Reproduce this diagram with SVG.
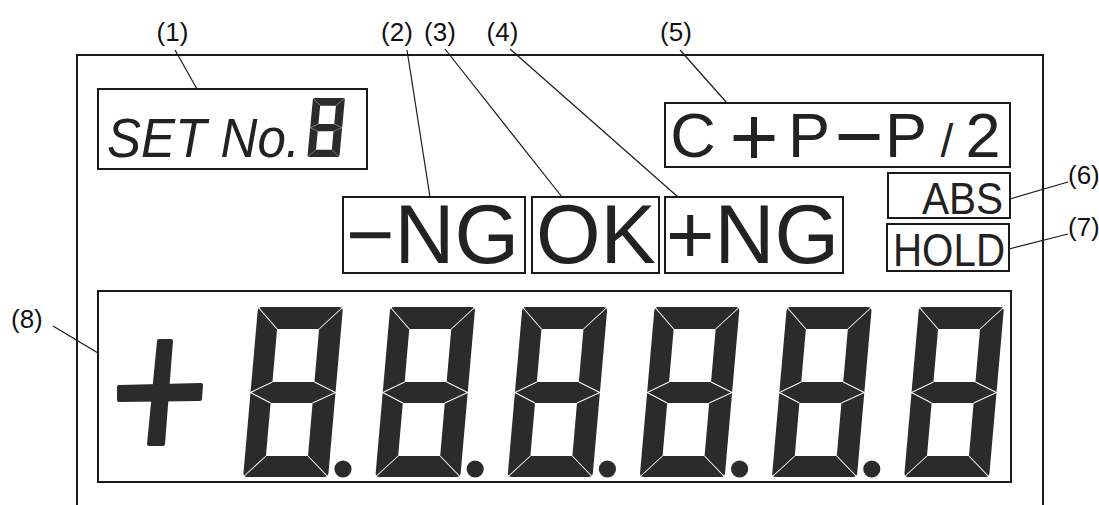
<svg xmlns="http://www.w3.org/2000/svg" xmlns:xlink="http://www.w3.org/1999/xlink" width="1099" height="505" viewBox="0 0 1099 505">
<style>
.box{fill:#fff;stroke:#1a1a1a;stroke-width:2}
.panel{fill:none;stroke:#1a1a1a;stroke-width:2}
.lbl{font-family:"Liberation Sans",Arial,sans-serif;font-size:26px;fill:#111}
.big{font-family:"Liberation Sans",Arial,sans-serif;fill:#222}
.seg{fill:#2b2b2b;fill-rule:evenodd}
.sep{stroke:#fff;stroke-width:1;fill:none}
.lead{stroke:#1a1a1a;stroke-width:1.2;fill:none}
</style>
<defs>
<g id="digit">
<g transform="skewX(-5)">
<path class="seg" d="M4,0 H81 Q85,0 85,4 V166 Q85,170 81,170 H4 Q0,170 0,166 V4 Q0,0 4,0 Z M21,22 H63 V75 H21 Z M21,96 H63 V149 H21 Z"/>
<path class="sep" d="M0,0 L21,22 M85,0 L63,22 M0,170 L21,149 M85,170 L63,149 M21,75 L0,85.5 L21,96 M63,75 L85,85.5 L63,96"/>
</g>
</g>
</defs>
<rect width="1099" height="505" fill="#fff"/>
<g id="panel">
<path class="panel" d="M77,505 V55 H1043 V505"/>
</g>
<g id="node-set-no">
<rect class="box" x="98" y="89" width="269" height="80"/>
<text class="big" x="107" y="157" font-size="56" font-style="italic" textLength="193" lengthAdjust="spacingAndGlyphs">SET No.</text>
<use xlink:href="#digit" transform="translate(313,98) scale(0.376,0.347)"/>
</g>
<g id="node-ng-minus">
<rect class="box" x="343" y="197" width="182" height="76"/>
<text class="big" x="432.5" y="263" font-size="83" text-anchor="middle">−NG</text>
</g>
<g id="node-ok">
<rect class="box" x="532" y="197" width="127" height="76"/>
<text class="big" x="596" y="263" font-size="83" text-anchor="middle">OK</text>
</g>
<g id="node-ng-plus">
<rect class="box" x="665" y="197" width="178" height="76"/>
<text class="big" x="752.5" y="263" font-size="83" text-anchor="middle">+NG</text>
</g>
<g id="node-mode">
<rect class="box" x="665" y="103" width="345" height="64"/>
<text class="big" y="157" font-size="63" text-anchor="middle"><tspan x="693">C</tspan><tspan x="754" y="165" font-size="84">+</tspan><tspan x="809" y="157">P</tspan><tspan x="859" y="165" font-size="84">−</tspan><tspan x="906" y="157">P</tspan><tspan x="947" font-size="46">/</tspan><tspan x="983">2</tspan></text>
</g>
<g id="node-abs">
<rect class="box" x="888" y="173" width="122" height="45"/>
<text class="big" x="962.5" y="214" font-size="45" text-anchor="middle" textLength="81" lengthAdjust="spacingAndGlyphs">ABS</text>
</g>
<g id="node-hold">
<rect class="box" x="887" y="224" width="122" height="47"/>
<text class="big" x="949" y="266" font-size="47" text-anchor="middle" textLength="112" lengthAdjust="spacingAndGlyphs">HOLD</text>
</g>
<g id="node-display">
<rect class="box" x="98" y="291" width="913" height="191"/>
<path class="seg" d="M157,341 Q157,339 159,339 L171,339 Q173,339 173,341 L165,444 Q165,446 163,446 L149,446 Q147,446 147,444 Z"/>
<path class="seg" d="M119,385 L201,383 Q203,383 203,385 L202,399 Q202,401 200,401 L119,402 Q117,402 117,400 L117,387 Q117,385 119,385 Z"/>
<use xlink:href="#digit" transform="translate(258,307)"/>
<use xlink:href="#digit" transform="translate(390.2,307)"/>
<use xlink:href="#digit" transform="translate(522.4,307)"/>
<use xlink:href="#digit" transform="translate(654.6,307)"/>
<use xlink:href="#digit" transform="translate(786.8,307)"/>
<use xlink:href="#digit" transform="translate(919,307)"/>
<circle class="seg" cx="343" cy="469" r="8.6"/>
<circle class="seg" cx="475.2" cy="469" r="8.6"/>
<circle class="seg" cx="607.4" cy="469" r="8.6"/>
<circle class="seg" cx="739.6" cy="469" r="8.6"/>
<circle class="seg" cx="871.8" cy="469" r="8.6"/>
</g>
<g id="connectors">
<line class="lead" x1="175" y1="50" x2="197" y2="89"/>
<line class="lead" x1="407" y1="50" x2="430" y2="197"/>
<line class="lead" x1="445" y1="49" x2="562" y2="197"/>
<line class="lead" x1="510" y1="49" x2="678" y2="197"/>
<line class="lead" x1="680" y1="50" x2="727" y2="103"/>
<line class="lead" x1="1010" y1="199" x2="1068" y2="182"/>
<line class="lead" x1="1009" y1="249" x2="1068" y2="234"/>
<line class="lead" x1="53" y1="326" x2="98" y2="353"/>
</g>
<g id="labels">
<text class="lbl" x="172.5" y="41" text-anchor="middle">(1)</text>
<text class="lbl" x="397" y="41" text-anchor="middle">(2)</text>
<text class="lbl" x="440" y="41" text-anchor="middle">(3)</text>
<text class="lbl" x="502.5" y="41" text-anchor="middle">(4)</text>
<text class="lbl" x="676" y="41" text-anchor="middle">(5)</text>
<text class="lbl" x="1068" y="184">(6)</text>
<text class="lbl" x="1068" y="236">(7)</text>
<text class="lbl" x="11" y="328">(8)</text>
</g>
</svg>
